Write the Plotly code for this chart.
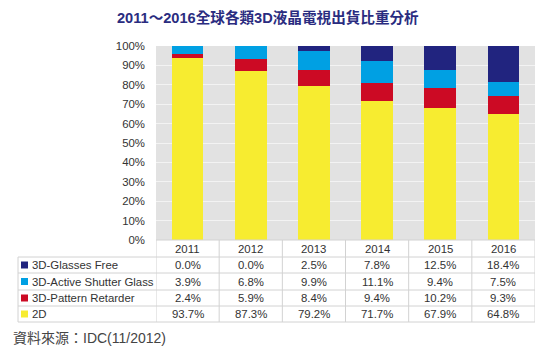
import plotly.graph_objects as go

years = ["2011", "2012", "2013", "2014", "2015", "2016"]
series_names = ["3D-Glasses Free", "3D-Active Shutter Glass", "3D-Pattern Retarder", "2D"]
glasses_free = [0.0, 0.0, 2.5, 7.8, 12.5, 18.4]
active_shutter = [3.9, 6.8, 9.9, 11.1, 9.4, 7.5]
pattern_retarder = [2.4, 5.9, 8.4, 9.4, 10.2, 9.3]
two_d = [93.7, 87.3, 79.2, 71.7, 67.9, 64.8]
colors = ["#21247f", "#00a0e3", "#cc0a24", "#f7ec30"]
title_text = "2011～2016全球各類3D液晶電視出貨比重分析"
source_text = "資料來源：IDC(11/2012)"

series_values = [glasses_free, active_shutter, pattern_retarder, two_d]

# page body margin offset (8px) compensation
OFF = 8
W_FIG, H_FIG = 550 - OFF, 358 - OFF
# plot area in window pixel coords
L, R, T, B = 156, 535, 46, 240
PW, PH = R - L, B - T


def px(x):
    return (x - L) / PW


def py(y):
    return (B - y) / PH


fig = go.Figure()
for name, vals, col in reversed(list(zip(series_names, series_values, colors))):
    fig.add_trace(go.Bar(
        x=years, y=[v / 100 for v in vals], name=name,
        marker=dict(color=col, line=dict(width=0)),
        width=0.5, showlegend=False,
    ))

FS = 11.4
font_main = "Liberation Sans, Arial, Noto Sans CJK TC, sans-serif"
fig.update_layout(
    width=W_FIG, height=H_FIG,
    margin=dict(l=L - OFF, r=W_FIG - (R - OFF), t=T - OFF, b=H_FIG - (B - OFF), pad=0),
    barmode="stack",
    showlegend=False,
    paper_bgcolor="white",
    plot_bgcolor="#e2e2e2",
    font=dict(family=font_main, size=FS, color="#333333"),
    xaxis=dict(type="category", range=[-0.5, 5.5], showticklabels=False,
               showgrid=False, zeroline=False, showline=False, fixedrange=True),
    yaxis=dict(range=[0, 1], tickvals=[i / 10 for i in range(11)],
               tickformat=".0%", showgrid=True, gridcolor="#f3f3f3", gridwidth=1,
               zeroline=False, showline=False, ticks="", ticklabelstandoff=10,
               tickfont=dict(size=FS, color="#333333"), fixedrange=True),
)

# title
fig.add_annotation(text=f"<b>{title_text}</b>", xref="paper", yref="paper",
                   x=px(268), y=py(17), xanchor="center", yanchor="middle",
                   showarrow=False,
                   font=dict(family="Liberation Sans, Noto Sans CJK TC, sans-serif",
                             size=14.6, color="#2a2c80"))

# source
fig.add_annotation(text=source_text, xref="paper", yref="paper",
                   x=px(11), y=py(338), xanchor="left", yanchor="middle",
                   showarrow=False,
                   font=dict(family="Liberation Sans, Noto Sans CJK TC, sans-serif",
                             size=14, color="#444444"))

# table geometry
row_lines = [240, 257, 273, 290, 306, 322]
line_col = "#d2d2d2"
shape_line = dict(color=line_col, width=1)
fig.add_shape(type="line", xref="paper", yref="paper", x0=px(L), x1=px(R),
              y0=py(row_lines[0]), y1=py(row_lines[0]), line=shape_line)
for yl in row_lines[1:]:
    fig.add_shape(type="line", xref="paper", yref="paper", x0=px(18), x1=px(R),
                  y0=py(yl), y1=py(yl), line=shape_line)
fig.add_shape(type="line", xref="paper", yref="paper", x0=px(18), x1=px(18),
              y0=py(row_lines[1]), y1=py(row_lines[-1]), line=shape_line)
for i in range(len(years) + 1):
    fig.add_shape(type="line", xref="x", yref="paper", x0=i - 0.5, x1=i - 0.5,
                  y0=py(row_lines[0]), y1=py(row_lines[-1]), line=shape_line)

row_centers = [(row_lines[k] + row_lines[k + 1]) / 2 for k in range(len(row_lines) - 1)]

for i, yr in enumerate(years):
    fig.add_annotation(text=yr, xref="x", yref="paper", x=i, y=py(row_centers[0]),
                       xanchor="center", yanchor="middle", showarrow=False,
                       font=dict(size=FS, color="#333333"))

for r, (name, vals, col) in enumerate(zip(series_names, series_values, colors)):
    yc = row_centers[r + 1]
    fig.add_shape(type="rect", xref="paper", yref="paper",
                  x0=px(21), x1=px(28), y0=py(yc - 3.5), y1=py(yc + 3.5),
                  fillcolor=col, line=dict(width=0))
    fig.add_annotation(text=name, xref="paper", yref="paper", x=px(30), y=py(yc),
                       xanchor="left", yanchor="middle", showarrow=False,
                       font=dict(size=FS, color="#333333"))
    for i, v in enumerate(vals):
        fig.add_annotation(text=f"{v:.1f}%", xref="x", yref="paper", x=i, y=py(yc),
                           xanchor="center", yanchor="middle", showarrow=False,
                           font=dict(size=FS, color="#333333"))

fig.write_html("out.html")
